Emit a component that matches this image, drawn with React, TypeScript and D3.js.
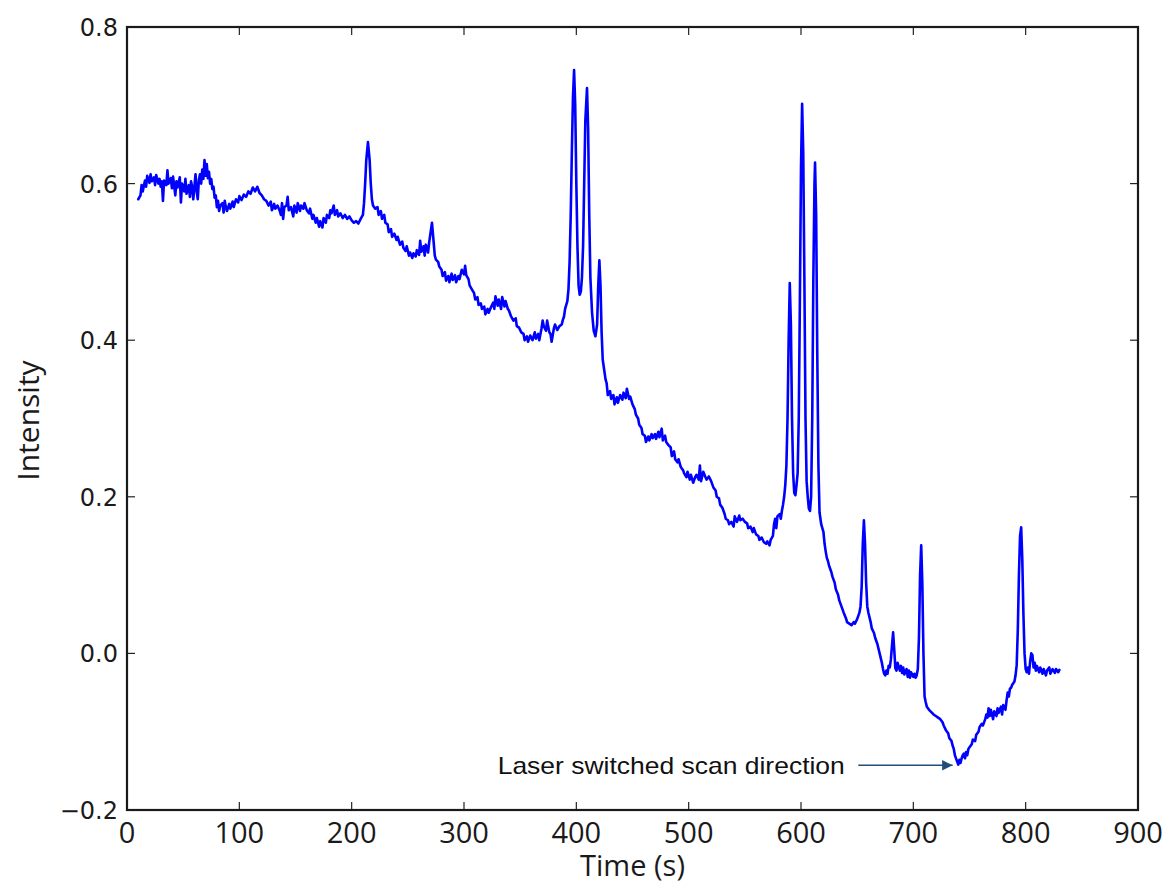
import React from "react";
import * as d3 from "d3";

// time (s), intensity
const earlyScan: [number, number][] = [
  [10, 0.58], [12, 0.585], [13, 0.598], [14, 0.59], [16, 0.604], [17, 0.596], [18, 0.61], [20, 0.601],
  [21, 0.612], [22, 0.603], [24, 0.608], [25, 0.598], [26, 0.611], [28, 0.6], [29, 0.606], [30, 0.596],
  [31, 0.603], [32, 0.578], [33, 0.604], [35, 0.598], [36, 0.617], [37, 0.6], [39, 0.607], [40, 0.594],
  [41, 0.609], [43, 0.585], [44, 0.603], [45, 0.595], [47, 0.608], [48, 0.576], [49, 0.6], [51, 0.59],
  [52, 0.606], [53, 0.587], [55, 0.598], [56, 0.583], [57, 0.603], [58, 0.596], [59, 0.58], [61, 0.612],
  [62, 0.59], [63, 0.58], [64, 0.605], [65, 0.612], [66, 0.6], [67, 0.618], [68, 0.606], [69, 0.63],
  [70, 0.61], [71, 0.625], [72, 0.607], [73, 0.615], [74, 0.6], [75, 0.606], [76, 0.593], [77, 0.596],
  [78, 0.582], [79, 0.585], [80, 0.57], [81, 0.578], [82, 0.565], [83, 0.572], [85, 0.575], [86, 0.563],
  [87, 0.578], [88, 0.57], [89, 0.565], [91, 0.574], [92, 0.568], [94, 0.577], [95, 0.57], [97, 0.58],
  [99, 0.576], [100, 0.584], [102, 0.579], [104, 0.586], [106, 0.583], [108, 0.59], [110, 0.587], [112, 0.595],
  [114, 0.59], [116, 0.596], [118, 0.588], [120, 0.585], [122, 0.58], [124, 0.578], [126, 0.572], [128, 0.577],
  [129, 0.566], [131, 0.574], [132, 0.568], [134, 0.572], [136, 0.565], [137, 0.56], [138, 0.575], [139, 0.555],
  [140, 0.57], [142, 0.572], [143, 0.583], [144, 0.566], [146, 0.57], [148, 0.558], [149, 0.572], [151, 0.563],
  [152, 0.575], [154, 0.565], [155, 0.572], [157, 0.568], [158, 0.575], [160, 0.566], [162, 0.562], [163, 0.568],
  [165, 0.555], [166, 0.56], [168, 0.55], [169, 0.556], [171, 0.545], [172, 0.552], [174, 0.544], [175, 0.556],
  [177, 0.55], [178, 0.56], [180, 0.556], [181, 0.566], [182, 0.562], [184, 0.572], [185, 0.56], [187, 0.566],
  [188, 0.558], [190, 0.562], [192, 0.556], [194, 0.56], [196, 0.555], [198, 0.558], [200, 0.553], [202, 0.55],
  [204, 0.552], [206, 0.549], [208, 0.555], [210, 0.56], [211, 0.575], [212, 0.6], [213, 0.63], [214.5, 0.653],
  [216, 0.63], [217, 0.6], [218, 0.58], [219, 0.572], [221, 0.568], [223, 0.57], [224, 0.56], [226, 0.565],
  [227, 0.555], [229, 0.56], [230, 0.55], [232, 0.548], [233, 0.538], [235, 0.542], [236, 0.532], [238, 0.536],
  [240, 0.528], [241, 0.532], [243, 0.522], [245, 0.526], [246, 0.518], [248, 0.514], [249, 0.52], [251, 0.508],
  [252, 0.512], [254, 0.505], [255, 0.511], [257, 0.507], [258, 0.515], [260, 0.509], [261, 0.527], [262, 0.513],
  [264, 0.52], [265, 0.508], [266, 0.522], [268, 0.512], [269, 0.525], [270, 0.535], [271.5, 0.55], [273, 0.525],
  [274, 0.508], [275, 0.503], [277, 0.5], [278, 0.494], [280, 0.49], [281, 0.482], [283, 0.487], [284, 0.476],
  [286, 0.482], [287, 0.474], [289, 0.485], [290, 0.477], [292, 0.483], [293, 0.474], [295, 0.482], [296, 0.478],
  [298, 0.49], [300, 0.484], [301, 0.495], [302, 0.483], [304, 0.478], [305, 0.47], [307, 0.465], [309, 0.46],
  [310, 0.452], [312, 0.455], [313, 0.445], [315, 0.447], [316, 0.44], [318, 0.443], [319, 0.433], [321, 0.44],
  [322, 0.435], [324, 0.442], [326, 0.448], [327, 0.44], [328, 0.456], [330, 0.444], [331, 0.452], [333, 0.44],
  [334, 0.455], [336, 0.443], [337, 0.45], [339, 0.44], [340, 0.438], [342, 0.43], [344, 0.425], [346, 0.428],
  [347, 0.418], [349, 0.416], [351, 0.41], [353, 0.408], [354, 0.4], [356, 0.405], [357, 0.398], [359, 0.406],
  [361, 0.4], [363, 0.41], [364, 0.402], [366, 0.408], [367, 0.4], [369, 0.415], [370, 0.425], [371, 0.418],
  [373, 0.412], [374, 0.425], [376, 0.41], [377, 0.408], [378, 0.398], [380, 0.415], [381, 0.42], [383, 0.413],
  [385, 0.418], [387, 0.42], [388, 0.426], [389, 0.43], [390, 0.44], [392, 0.45],
];

const firstPeaks: [number, number][] = [
  [393, 0.465], [394, 0.5], [395, 0.56], [396, 0.64], [397, 0.71], [398, 0.745], [399, 0.7], [400, 0.6],
  [401, 0.52], [402, 0.47], [403, 0.458], [404, 0.462], [405, 0.48], [406, 0.52], [407, 0.6], [408, 0.68],
  [409.5, 0.722], [410.5, 0.67], [411.5, 0.56], [412.5, 0.48], [414, 0.435], [415.5, 0.412], [417, 0.405],
  [418.5, 0.42], [419.5, 0.47], [420.5, 0.502], [421.5, 0.47], [422.5, 0.41], [423.5, 0.375], [425, 0.36],
  [426, 0.35], [427, 0.345],
];

const midScan: [number, number][] = [
  [428, 0.33], [430, 0.335], [431, 0.325], [433, 0.33], [434, 0.318], [436, 0.327], [437, 0.32], [439, 0.33],
  [441, 0.324], [442, 0.333], [444, 0.326], [445, 0.338], [447, 0.325], [448, 0.328], [450, 0.318], [452, 0.312],
  [453, 0.305], [455, 0.3], [456, 0.292], [458, 0.288], [459, 0.28], [461, 0.278], [462, 0.27], [464, 0.277],
  [465, 0.272], [467, 0.28], [468, 0.275], [470, 0.28], [471, 0.274], [473, 0.283], [474, 0.276], [476, 0.287],
  [477, 0.272], [479, 0.278], [480, 0.27], [482, 0.266], [484, 0.263], [485, 0.252], [487, 0.258], [488, 0.248],
  [490, 0.244], [491, 0.248], [493, 0.238], [495, 0.234], [496, 0.23], [498, 0.225], [499, 0.232], [501, 0.222],
  [502, 0.228], [504, 0.218], [506, 0.226], [507, 0.228], [509, 0.222], [510, 0.24], [511, 0.22], [513, 0.232],
  [515, 0.225], [516, 0.222], [518, 0.226], [520, 0.22], [522, 0.212], [524, 0.208], [525, 0.2], [527, 0.198],
  [528, 0.19], [530, 0.186], [532, 0.178], [533, 0.172], [535, 0.17], [536, 0.165], [538, 0.168], [540, 0.162],
  [541, 0.175], [543, 0.168], [545, 0.176], [546, 0.17], [548, 0.172], [550, 0.168], [552, 0.166], [553, 0.16],
  [555, 0.162], [557, 0.155], [558, 0.16], [560, 0.152], [562, 0.15], [563, 0.145], [565, 0.148], [567, 0.142],
  [569, 0.14], [570, 0.143], [572, 0.138], [573, 0.145], [575, 0.15], [576, 0.165], [577, 0.172], [578, 0.16],
  [579, 0.175], [581, 0.178], [582, 0.172], [583, 0.182], [584, 0.19], [585, 0.2], [586, 0.215], [587, 0.24],
  [588, 0.3], [589, 0.4], [590, 0.473], [591, 0.42], [592, 0.3], [593, 0.23], [594, 0.205], [595, 0.202],
  [596, 0.215], [597, 0.23], [598, 0.3], [599, 0.45], [600, 0.62], [601, 0.702], [602, 0.64], [603, 0.48],
  [604, 0.3], [605, 0.22], [606, 0.2], [607, 0.185], [608, 0.182], [609, 0.2], [610, 0.3], [611, 0.48],
  [612, 0.6], [612.5, 0.627], [613.5, 0.56], [614.5, 0.38], [615.5, 0.24], [616.5, 0.18], [618, 0.165], [619, 0.16],
  [620, 0.155], [621, 0.14], [622, 0.13], [623, 0.122], [624, 0.118], [625, 0.112], [627, 0.104], [628, 0.098],
  [630, 0.09], [631, 0.082], [633, 0.075], [634, 0.068], [636, 0.06], [638, 0.052], [640, 0.045], [641, 0.04],
  [643, 0.038], [645, 0.036], [647, 0.04], [648, 0.038], [650, 0.044], [651, 0.048], [652, 0.052], [653, 0.06],
  [654, 0.085], [655, 0.14], [656, 0.17], [657, 0.14], [658, 0.09], [659, 0.06], [660, 0.052], [661, 0.046],
  [662, 0.04], [663, 0.032], [665, 0.026], [666, 0.02], [668, 0.012], [669, 0.006], [670, 0.0], [671, -0.006],
  [672, -0.012], [673, -0.02], [674, -0.026], [675, -0.028], [676, -0.022], [677, -0.026], [678, -0.016], [679, -0.018],
  [680, -0.008], [681, 0.01], [682, 0.027], [683, 0.005], [684, -0.019], [685, -0.022], [686, -0.012], [688, -0.022],
  [689, -0.016], [690, -0.025], [691, -0.018], [692, -0.027], [694, -0.02], [695, -0.03], [696, -0.022], [697, -0.031],
  [698, -0.024], [700, -0.03], [701, -0.026], [702, -0.031], [703, -0.028],
];

const lateScan: [number, number][] = [
  [704, -0.02], [705, 0.02], [706, 0.1], [707, 0.138], [708, 0.09], [709, 0.0], [710, -0.055], [711, -0.062],
  [712, -0.068], [714, -0.072], [716, -0.075], [718, -0.078], [720, -0.08], [722, -0.082], [724, -0.084], [726, -0.088],
  [727, -0.092], [729, -0.098], [731, -0.102], [732, -0.108], [734, -0.112], [735, -0.118], [736, -0.122], [737, -0.13],
  [738, -0.134], [739, -0.138], [740, -0.142], [741, -0.136], [742, -0.14], [743, -0.134], [744, -0.13], [745, -0.128],
  [746, -0.134], [747, -0.126], [748, -0.13], [749, -0.122], [750, -0.12], [752, -0.116], [753, -0.11], [755, -0.112],
  [756, -0.104], [758, -0.1], [759, -0.094], [761, -0.09], [762, -0.092], [764, -0.084], [765, -0.078], [766, -0.082],
  [767, -0.07], [768, -0.08], [769, -0.072], [771, -0.084], [772, -0.074], [774, -0.08], [775, -0.07], [776, -0.076],
  [778, -0.068], [779, -0.078], [780, -0.066], [782, -0.072], [783, -0.06], [784, -0.05], [785, -0.055], [786, -0.045],
  [787, -0.044], [788, -0.04], [789, -0.038], [790, -0.036], [791, -0.028], [792, -0.015], [793, 0.03], [794, 0.1],
  [795, 0.15], [796, 0.161], [797, 0.12], [798, 0.05], [799, 0.0], [800, -0.02], [801, -0.024], [802, -0.018],
  [803, -0.026], [804, -0.01], [805, 0.0], [806, -0.002], [807, -0.018], [808, -0.012], [809, -0.022], [810, -0.016],
  [812, -0.024], [813, -0.018], [815, -0.026], [816, -0.02], [818, -0.028], [819, -0.022], [821, -0.018], [822, -0.026],
  [824, -0.02], [826, -0.025], [827, -0.02], [829, -0.024], [830, -0.021],
];

const xTicks = [0, 100, 200, 300, 400, 500, 600, 700, 800, 900];
const yTicks = [-0.2, 0.0, 0.2, 0.4, 0.6, 0.8];

const annotationText = "Laser switched scan direction";
const annotationTip: [number, number] = [735, -0.143];
const annotationTail: [number, number] = [651, -0.143];
const annotationTextStart = 330;
const annotationTextEnd = 639;

const width = 1171;
const height = 890;
const margin = { top: 27, right: 33, bottom: 80, left: 127 };

export default function App() {
  const signal = [...earlyScan, ...firstPeaks, ...midScan, ...lateScan];

  const x = d3.scaleLinear().domain([0, 900]).range([margin.left, width - margin.right]);
  const y = d3.scaleLinear().domain([-0.2, 0.8]).range([height - margin.bottom, margin.top]);

  const line = d3
    .line<[number, number]>()
    .x((d) => x(d[0]))
    .y((d) => y(d[1]));

  const x0 = x.range()[0];
  const x1 = x.range()[1];
  const y0 = y.range()[0];
  const y1 = y.range()[1];
  const tick = 8;
  const yFmt = (v: number) => d3.format(".1f")(v).replace("-", "\u2212");

  return (
    <svg
      width={width}
      height={height}
      style={{ position: "absolute", left: 0, top: 0, background: "#fff" }}
    >
      <defs>
        <marker id="arrowHead" viewBox="0 0 10 10" refX="10" refY="5" markerWidth="7" markerHeight="7" orient="auto">
          <path d="M0,0 L10,5 L0,10 z" fill="#1f4e79" />
        </marker>
      </defs>

      {/* data */}
      <path
        d={line(signal) ?? ""}
        fill="none"
        stroke="#0000ff"
        strokeWidth={2.6}
        strokeLinejoin="round"
        strokeLinecap="round"
      />

      {/* ticks, inward on all four sides */}
      <g stroke="#222" strokeWidth={1.2}>
        {xTicks.map((t) => (
          <g key={"xt" + t}>
            <line x1={x(t)} x2={x(t)} y1={y0} y2={y0 - tick} />
            <line x1={x(t)} x2={x(t)} y1={y1} y2={y1 + tick} />
          </g>
        ))}
        {yTicks.map((t) => (
          <g key={"yt" + t}>
            <line x1={x0} x2={x0 + tick} y1={y(t)} y2={y(t)} />
            <line x1={x1} x2={x1 - tick} y1={y(t)} y2={y(t)} />
          </g>
        ))}
      </g>

      {/* frame */}
      <rect x={x0} y={y1} width={x1 - x0} height={y0 - y1} fill="none" stroke="#1a1a1a" strokeWidth={2.2} />

      {/* tick labels */}
      <g fontFamily="'Open Sans', sans-serif" fontSize={29} fill="#1a1a1a" textAnchor="middle">
        {xTicks.map((t) => (
          <text key={"xl" + t} x={x(t)} y={y0 + 33}>
            {t}
          </text>
        ))}
      </g>
      <g fontFamily="'DejaVu Sans', sans-serif" fontSize={24} fill="#1a1a1a" textAnchor="end">
        {yTicks.map((t) => (
          <text key={"yl" + t} x={x0 - 9} y={y(t) + 9}>
            {yFmt(t)}
          </text>
        ))}
      </g>

      {/* axis titles */}
      <text
        x={(x0 + x1) / 2}
        y={876}
        textAnchor="middle"
        fontFamily="'Open Sans', sans-serif"
        fontSize={29}
        fill="#1a1a1a"
      >
        Time (s)
      </text>
      <text
        transform={`translate(39, ${(y0 + y1) / 2 + 2}) rotate(-90)`}
        textAnchor="middle"
        fontFamily="'Open Sans', sans-serif"
        fontSize={30}
        fill="#1a1a1a"
      >
        Intensity
      </text>

      {/* annotation */}
      <text
        x={x(annotationTextStart)}
        y={y(annotationTip[1]) + 9}
        textLength={x(annotationTextEnd) - x(annotationTextStart)}
        lengthAdjust="spacingAndGlyphs"
        fontFamily="'Liberation Sans', Arial, sans-serif"
        fontSize={24}
        fill="#111"
      >
        {annotationText}
      </text>
      <line
        x1={x(annotationTail[0])}
        y1={y(annotationTail[1])}
        x2={x(annotationTip[0])}
        y2={y(annotationTip[1])}
        stroke="#1f4e79"
        strokeWidth={1.5}
        markerEnd="url(#arrowHead)"
      />
    </svg>
  );
}
